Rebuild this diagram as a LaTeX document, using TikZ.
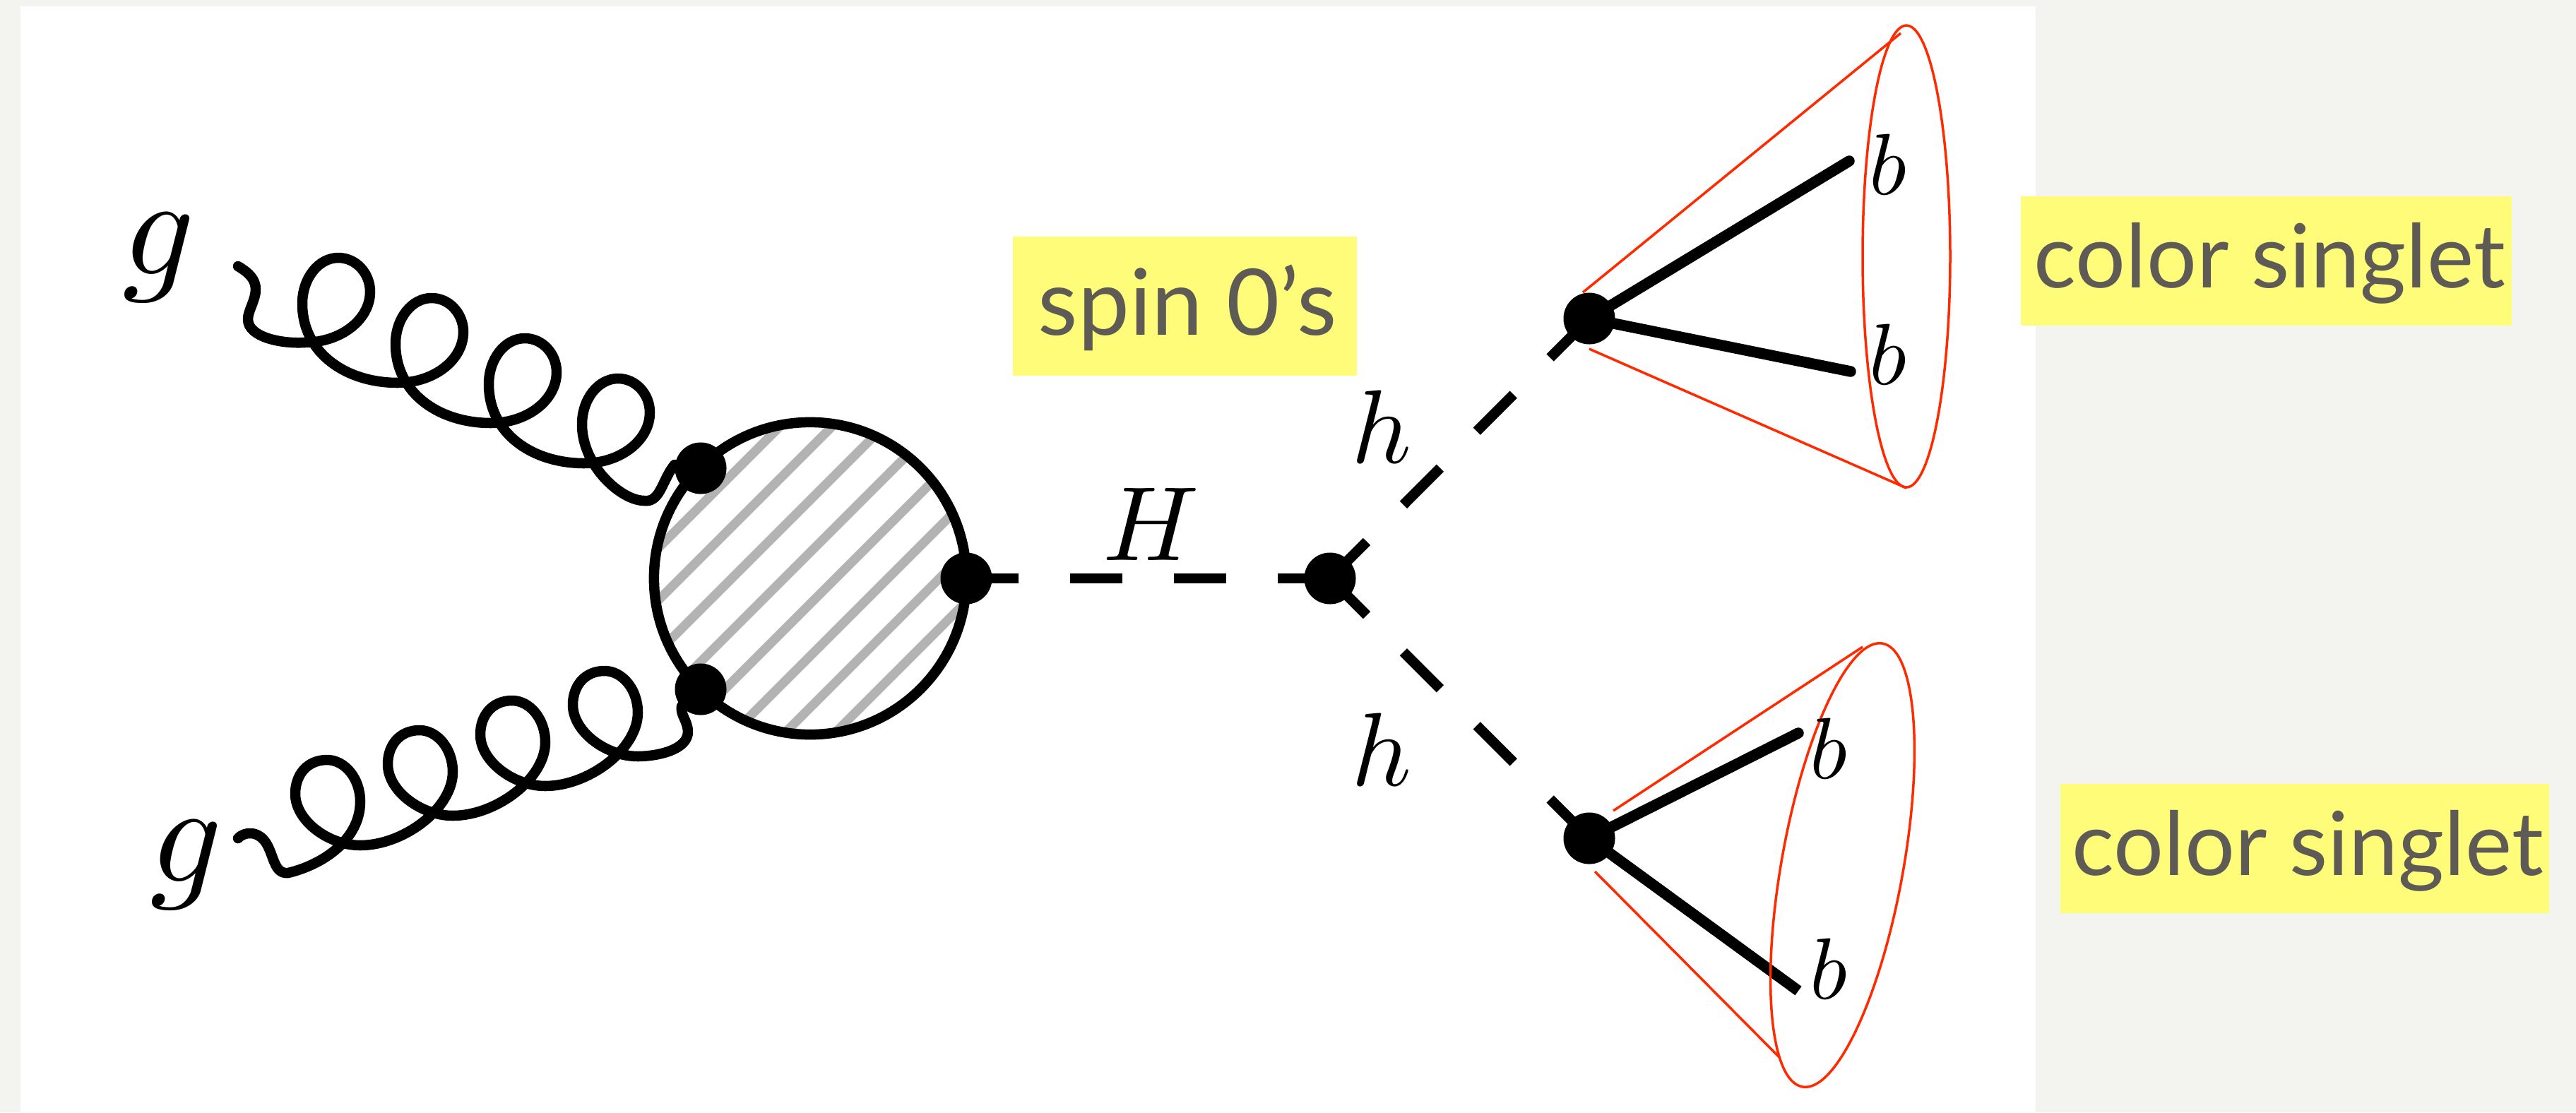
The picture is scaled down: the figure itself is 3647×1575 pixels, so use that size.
\documentclass[tikz,border=0pt]{standalone}
\usepackage{fontspec}
\setmainfont{Lato}
\usetikzlibrary{calc}
\definecolor{paper}{HTML}{F3F3EF}
\definecolor{hl}{HTML}{FFFC79}
\definecolor{ink}{HTML}{5E5A55}
\definecolor{hatchc}{HTML}{B3B3B3}
\definecolor{conec}{HTML}{FF2A00}
\tikzset{
  x=0.01cm,y=-0.01cm,
  vertex/.style={circle,fill=black,draw=none,minimum size=0.73cm,inner sep=0pt},
  gluon/.style={line width=0.145cm,line cap=round,line join=round},
  higgs/.style={line width=0.145cm,dash pattern=on 0.735cm off 0.735cm},
  quark/.style={line width=0.155cm,line cap=round},
  coneline/.style={draw=conec,line width=0.035cm},
  lab/.style={inner sep=0pt,outer sep=0pt},
  tagtext/.style={text=ink,inner sep=0pt,anchor=base west,font=\fontsize{37}{44}\selectfont},
  tagtextb/.style={tagtext,font=\fontsize{35.6}{44}\selectfont},
}
\begin{document}
\begin{tikzpicture}
\useasboundingbox (0,0) rectangle (3647,1575);
\fill[paper] (0,0) rectangle (3647,1575);
\fill[white] (29,9) rectangle (2882,1575);
% blob
\coordinate (cc) at (1147,819);
\begin{scope}
\clip (cc) circle[radius=2.21cm];
\foreach \d in {-258,-184,-111,-37,36,110,183,254}
  \draw[hatchc,line width=0.13cm] ($(cc)+(-400,400+\d)$) -- ($(cc)+(400,-400+\d)$);
\end{scope}
\draw[line width=0.145cm] (cc) circle[radius=2.21cm];
\coordinate (p1) at (992,663);
\coordinate (p2) at (992,976);
\coordinate (p3) at (1368,819);
\coordinate (pH) at (1883,819);
\coordinate (pu) at (2250,451);
\coordinate (pd) at (2250,1187);
\draw[higgs] (p3) -- (pH);
\draw[higgs] (pH) -- (pu);
\draw[higgs] (pH) -- (pd);
% gluons
\coordinate (g1s) at (337,377);
\coordinate (g2s) at (337,1187);
\draw[gluon] (g1s)
  .. controls (352,386) and (362,395) .. (362,410)
  .. controls (362,425) and (351,440) .. (351,452)
  .. controls (351,478) and (400,487) .. (431,485)
  \foreach \ox/\oy in {431/485,563/542,695/599} {
  .. controls ({\ox+51},{\oy}) and ({\ox+93},{\oy-32}) .. ({\ox+93},{\oy-72})
  .. controls ({\ox+93},{\oy-98}) and ({\ox+73},{\oy-120}) .. ({\ox+48},{\oy-120})
  .. controls ({\ox+20},{\oy-120}) and ({\ox-3},{\oy-91}) .. ({\ox-3},{\oy-55})
  .. controls ({\ox-3},{\oy+15}) and ({\ox+59},{\oy+57}) .. ({\ox+132},{\oy+57})
  }
  .. controls (878,656) and (920,624) .. (920,584)
  .. controls (920,558) and (900,536) .. (875,536)
  .. controls (847,536) and (824,565) .. (824,601)
  .. controls (824,660) and (880,709) .. (912,709)
  .. controls (935,712) and (937,680) .. (955,658)
  -- (p1);
\draw[gluon] (g2s)
  .. controls (345,1178) and (365,1175) .. (377,1194)
  .. controls (388,1212) and (388,1238) .. (408,1236)
  .. controls (455,1225) and (510,1190) .. (510,1135)
  .. controls (510,1102) and (488,1076) .. (463,1076)
  .. controls (435,1076) and (418,1097) .. (418,1124)
  .. controls (418,1162) and (465,1197) .. (510,1197)
  \foreach \ox/\oy in {641/1155,772/1113,903/1071} {
  .. controls ({\ox-70},{\oy+42}) and ({\ox},{\oy-10}) .. ({\ox},{\oy-62})
  .. controls ({\ox},{\oy-95}) and ({\ox-22},{\oy-121}) .. ({\ox-47},{\oy-121})
  .. controls ({\ox-75},{\oy-121}) and ({\ox-92},{\oy-100}) .. ({\ox-92},{\oy-73})
  .. controls ({\ox-92},{\oy-35}) and ({\ox-45},{\oy}) .. ({\ox},{\oy})
  }
  .. controls (930,1071) and (975,1062) .. (974,1035)
  .. controls (973,1020) and (963,1012) .. (965,1000)
  -- (p2);
% quarks
\coordinate (bu1) at (2618,228);
\coordinate (bu2) at (2620,526);
\coordinate (bd1) at (2546,1038);
\coordinate (bd2) at (2546,1403);
\draw[quark] (pu) -- (bu1);
\draw[quark] (pu) -- (bu2);
\draw[quark] (pd) -- (bd1);
\draw[line width=0.155cm] (pd) -- (bd2);
% vertices
\node[vertex] (v1) at (p1) {};
\node[vertex] (v2) at (p2) {};
\node[vertex] (v3) at (p3) {};
\node[vertex] (vH) at (pH) {};
\node[vertex] (vu) at (pu) {};
\node[vertex] (vd) at (pd) {};
% cones
\draw[coneline] (2699,363) ellipse[x radius=62,y radius=327];
\coordinate (cu1a) at (2241,414); \coordinate (cu1b) at (2691,47);
\coordinate (cu2a) at (2250,494); \coordinate (cu2b) at (2699,691);
\draw[coneline] (cu1a) -- (cu1b);
\draw[coneline] (cu2a) -- (cu2b);
\draw[coneline,rotate around={-10.25:(2608.5,1225)}] (2608.5,1225) ellipse[x radius=86,y radius=319];
\coordinate (cd1a) at (2284,1148); \coordinate (cd1b) at (2637,916);
\coordinate (cd2a) at (2258,1234); \coordinate (cd2b) at (2520,1498);
\draw[coneline] (cd1a) -- (cd1b);
\draw[coneline] (cd2a) -- (cd2b);
% labels
\node[lab,scale=5.7] (lg1) at (225,365) {$g$};
\node[lab,scale=5.7] (lg2) at (264,1225) {$g$};
\node[lab,scale=4.25] (lH) at (1630,742) {$H$};
\node[lab,scale=4.2] (lh1) at (1956,604) {$h$};
\node[lab,scale=4.2] (lh2) at (1956,1061) {$h$};
\node[lab,scale=3.5] (lb1) at (2673,233) {$b$};
\node[lab,scale=3.5] (lb2) at (2673,502) {$b$};
\node[lab,scale=3.5] (lb3) at (2589,1060) {$b$};
\node[lab,scale=3.5] (lb4) at (2589,1372) {$b$};
% tags
\fill[hl] (1434,335) rectangle (1921,532);
\fill[hl] (2861,278) rectangle (3556,461);
\fill[hl] (2917,1110) rectangle (3609,1293);
\node[tagtext] (t1) at (1469,474) {spin 0’s};
\node[tagtextb] (t2) at (2879,407) {color singlet};
\node[tagtextb] (t3) at (2933,1239) {color singlet};
\end{tikzpicture}
\end{document}
